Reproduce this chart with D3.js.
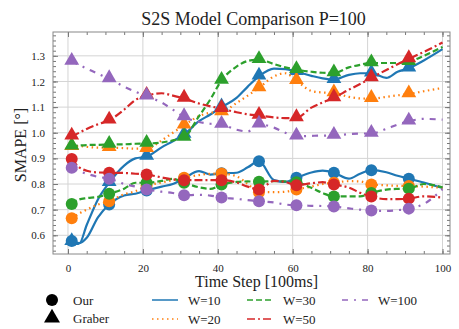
<!DOCTYPE html>
<html>
<head>
<meta charset="utf-8">
<script src="https://cdn.jsdelivr.net/npm/d3@7"></script>
<style>
  body { margin: 0; background: #fff; }
  svg text { font-family: "Liberation Serif", "DejaVu Serif", serif; fill: #222; }
</style>
</head>
<body>
<div id="chart"></div>
<script>
// sample time steps shared by all series
var steps = [1,3,5,8,11,15,18,21,25,28,31,35,38,41,45,48,51,55,58,61,65,68,71,75,78,81,85,88,91,95,100];
var markerSteps = [1,11,21,31,41,51,61,71,81,91];
var windows = ["W=10", "W=20", "W=30", "W=50", "W=100"];
var xTicks = [0,20,40,60,80,100];
var yTicks = [0.6,0.7,0.8,0.9,1.0,1.1,1.2,1.3];

// Graber (triangles)
var graberW10  = [0.575,0.568,0.64,0.74,0.805,0.872,0.9,0.907,0.943,0.967,0.993,1.045,1.071,1.10,1.136,1.18,1.22,1.25,1.248,1.238,1.222,1.212,1.207,1.226,1.232,1.232,1.214,1.238,1.252,1.282,1.326];
var graberW20  = [0.945,0.948,0.945,0.942,0.942,0.94,0.938,0.938,0.97,1.0,1.029,1.065,1.078,1.081,1.116,1.145,1.175,1.22,1.232,1.203,1.163,1.157,1.155,1.14,1.134,1.133,1.14,1.146,1.151,1.162,1.175];
var graberW30  = [0.947,0.95,0.952,0.953,0.954,0.955,0.957,0.958,0.962,0.97,0.982,1.065,1.13,1.204,1.258,1.28,1.285,1.268,1.255,1.246,1.238,1.234,1.233,1.255,1.265,1.272,1.272,1.272,1.277,1.30,1.335];
var graberW50  = [0.986,1.0,1.015,1.033,1.049,1.09,1.128,1.145,1.154,1.145,1.134,1.114,1.103,1.094,1.08,1.072,1.067,1.06,1.057,1.058,1.098,1.118,1.136,1.168,1.19,1.214,1.245,1.267,1.288,1.315,1.352];
var graberW100 = [1.278,1.265,1.25,1.23,1.21,1.18,1.16,1.142,1.118,1.09,1.062,1.042,1.035,1.032,1.012,1.005,1.033,1.02,1.0,0.986,0.988,0.989,0.989,0.995,0.997,0.997,1.015,1.032,1.045,1.054,1.051];

// Our (circles)
var ourW10  = [0.578,0.57,0.59,0.67,0.72,0.755,0.762,0.775,0.79,0.80,0.822,0.85,0.837,0.842,0.844,0.865,0.889,0.815,0.808,0.824,0.845,0.852,0.844,0.821,0.84,0.854,0.846,0.832,0.821,0.806,0.785];
var ourW20  = [0.666,0.685,0.70,0.72,0.733,0.76,0.772,0.793,0.806,0.815,0.824,0.835,0.84,0.841,0.83,0.80,0.768,0.768,0.77,0.779,0.79,0.80,0.805,0.811,0.81,0.798,0.795,0.793,0.792,0.79,0.785];
var ourW30  = [0.722,0.74,0.745,0.75,0.762,0.782,0.805,0.805,0.812,0.82,0.805,0.787,0.781,0.798,0.808,0.81,0.809,0.811,0.81,0.807,0.785,0.765,0.751,0.752,0.752,0.765,0.778,0.781,0.782,0.80,0.787];
var ourW50  = [0.898,0.865,0.852,0.845,0.844,0.843,0.84,0.837,0.826,0.818,0.815,0.815,0.815,0.815,0.806,0.79,0.779,0.812,0.808,0.795,0.803,0.807,0.798,0.786,0.766,0.751,0.741,0.741,0.743,0.752,0.747];
var ourW100 = [0.863,0.85,0.84,0.828,0.821,0.80,0.79,0.779,0.77,0.765,0.756,0.758,0.755,0.747,0.742,0.737,0.733,0.728,0.72,0.717,0.715,0.714,0.712,0.705,0.70,0.697,0.695,0.698,0.704,0.722,0.78];

var colors = ["#1f77b4", "#ff7f0e", "#2ca02c", "#d62728", "#9467bd"];
var dashes = [null, "1.5,3.5", "6,3", "8,3,2,3", "6,6,2,6"];

var graber = [graberW10, graberW20, graberW30, graberW50, graberW100];
var our = [ourW10, ourW20, ourW30, ourW50, ourW100];

var width = 459, height = 329;
var margin = {top: 32, right: 9, bottom: 75, left: 53};
var w = width - margin.left - margin.right,
    h = height - margin.top - margin.bottom;

var svg = d3.select("#chart").append("svg")
    .attr("width", width)
    .attr("height", height);

var x = d3.scaleLinear().domain([-4, 102]).range([0, w]);
var y = d3.scaleLinear().domain([0.527, 1.393]).range([h, 0]);

var g = svg.append("g")
    .attr("transform", "translate(" + margin.left + "," + margin.top + ")");

// grid
g.append("g").selectAll("line").data(xTicks).enter().append("line")
    .attr("x1", d => x(d)).attr("x2", d => x(d))
    .attr("y1", 0).attr("y2", h)
    .attr("stroke", "#d4d4d4").attr("stroke-width", 1);
g.append("g").selectAll("line").data(yTicks).enter().append("line")
    .attr("y1", d => y(d)).attr("y2", d => y(d))
    .attr("x1", 0).attr("x2", w)
    .attr("stroke", "#d4d4d4").attr("stroke-width", 1);

// axes, ticks pointing inward
var xMinor = d3.range(0, 101, 5);
var yMinor = d3.range(0.54, 1.39, 0.02);
var tickCol = "#777";

function styleAxis(sel) {
  sel.select(".domain").remove();
  sel.attr("font-family", "Liberation Serif, serif");
  sel.selectAll(".tick line").attr("stroke", tickCol);
  sel.selectAll(".tick text").attr("font-size", 11).attr("fill", "#222");
}

g.append("g").attr("transform", "translate(0," + h + ")")
    .call(d3.axisBottom(x).tickValues(xMinor).tickSize(-3).tickFormat(""))
    .call(styleAxis);
g.append("g").attr("transform", "translate(0," + h + ")")
    .call(d3.axisBottom(x).tickValues(xTicks).tickSize(-5).tickPadding(10).tickFormat(d3.format("d")))
    .call(styleAxis);
g.append("g")
    .call(d3.axisTop(x).tickValues(xMinor).tickSize(-3).tickFormat(""))
    .call(styleAxis);
g.append("g")
    .call(d3.axisTop(x).tickValues(xTicks).tickSize(-5).tickFormat(""))
    .call(styleAxis);
g.append("g")
    .call(d3.axisLeft(y).tickValues(yMinor).tickSize(-3).tickFormat(""))
    .call(styleAxis);
g.append("g")
    .call(d3.axisLeft(y).tickValues(yTicks).tickSize(-5).tickPadding(8).tickFormat(d3.format(".1f")))
    .call(styleAxis);
g.append("g").attr("transform", "translate(" + w + ",0)")
    .call(d3.axisRight(y).tickValues(yMinor).tickSize(-3).tickFormat(""))
    .call(styleAxis);
g.append("g").attr("transform", "translate(" + w + ",0)")
    .call(d3.axisRight(y).tickValues(yTicks).tickSize(-5).tickFormat(""))
    .call(styleAxis);

g.append("rect")
    .attr("width", w).attr("height", h)
    .attr("fill", "none").attr("stroke", "#888").attr("stroke-width", 1);

var line = d3.line()
    .x(d => x(d[0]))
    .y(d => y(d[1]))
    .curve(d3.curveMonotoneX);

var plot = g.append("g");
var tri = d3.symbol().type(d3.symbolTriangle).size(95);

function drawSeries(vals, i, marker) {
  var pts = steps.map((s, k) => [s, vals[k]]);
  plot.append("path")
      .datum(pts)
      .attr("fill", "none")
      .attr("stroke", colors[i])
      .attr("stroke-width", 2.2)
      .attr("stroke-dasharray", dashes[i])
      .attr("d", line);
  var mk = pts.filter(p => markerSteps.indexOf(p[0]) >= 0);
  if (marker === "circle") {
    plot.append("g").selectAll("circle").data(mk).enter().append("circle")
        .attr("cx", d => x(d[0])).attr("cy", d => y(d[1]))
        .attr("r", 6).attr("fill", colors[i]);
  } else {
    plot.append("g").selectAll("path").data(mk).enter().append("path")
        .attr("d", tri)
        .attr("transform", d => "translate(" + x(d[0]) + "," + (y(d[1]) - 1) + ")")
        .attr("fill", colors[i]);
  }
}

graber.forEach((s, i) => drawSeries(s, i, "triangle"));
our.forEach((s, i) => drawSeries(s, i, "circle"));

// title and labels
svg.append("text")
    .attr("x", margin.left + w / 2 + 2).attr("y", 25)
    .attr("text-anchor", "middle").attr("font-size", 18)
    .text("S2S Model Comparison P=100");

svg.append("text")
    .attr("x", margin.left + w / 2 + 5).attr("y", 287)
    .attr("text-anchor", "middle").attr("font-size", 16)
    .text("Time Step [100ms]");

svg.append("text")
    .attr("transform", "translate(26," + (margin.top + h / 2 + 2) + ") rotate(-90)")
    .attr("text-anchor", "middle").attr("font-size", 16)
    .text("SMAPE [°]");

// legend
var leg = svg.append("g");
leg.append("circle").attr("cx", 52).attr("cy", 300).attr("r", 6).attr("fill", "#000");
leg.append("path").attr("d", d3.symbol().type(d3.symbolTriangle).size(110))
    .attr("transform", "translate(52,318)").attr("fill", "#000");
leg.append("text").attr("x", 73).attr("y", 304.5).attr("font-size", 13).text("Our");
leg.append("text").attr("x", 73).attr("y", 323).attr("font-size", 13).text("Graber");

var legX = [152, 152, 247, 247, 342];
var legY = [300, 319, 300, 319, 300];
windows.forEach(function(name, i) {
  leg.append("line")
      .attr("x1", legX[i]).attr("x2", legX[i] + 26)
      .attr("y1", legY[i]).attr("y2", legY[i])
      .attr("stroke", colors[i]).attr("stroke-width", 1.5)
      .attr("stroke-dasharray", dashes[i]);
  leg.append("text")
      .attr("x", legX[i] + 36).attr("y", legY[i] + 4.5)
      .attr("font-size", 13).text(name);
});
</script>
</body>
</html>
